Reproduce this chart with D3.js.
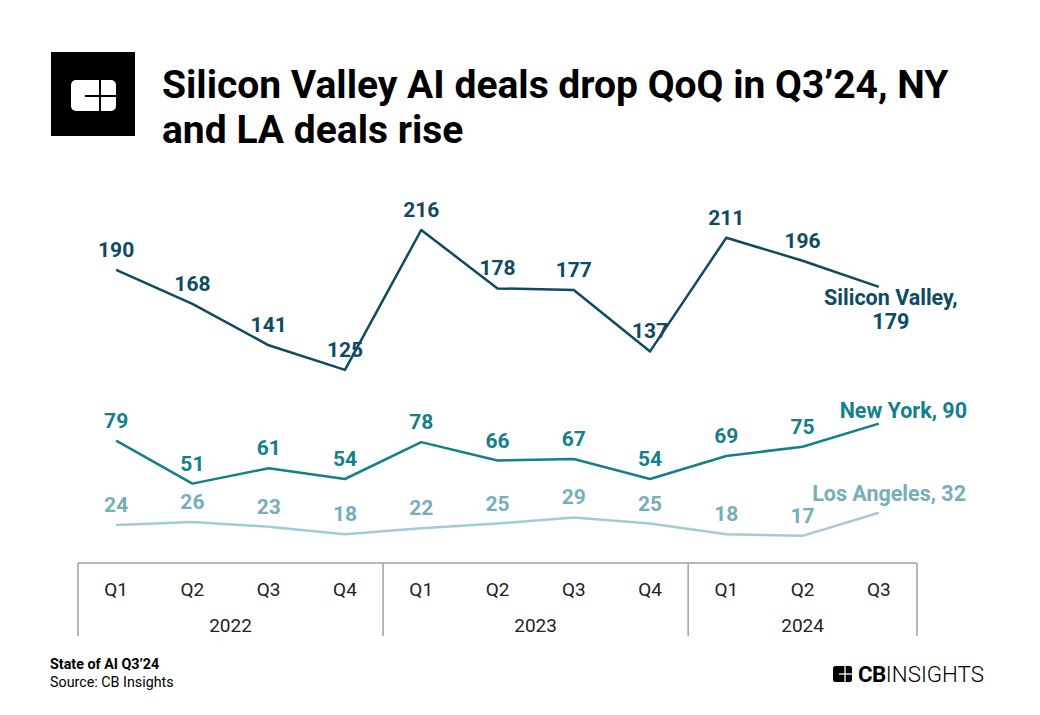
<!DOCTYPE html>
<html><head><meta charset="utf-8">
<script src="https://cdn.jsdelivr.net/npm/d3@7"></script>
<style>body{margin:0;background:#fff}svg{display:block;font-family:Roboto,"Noto Sans",sans-serif}</style>
</head><body><svg id="c" width="1040" height="715"></svg>
<script>
const quarters = ["Q1","Q2","Q3","Q4","Q1","Q2","Q3","Q4","Q1","Q2","Q3"];
const years = ["2022","2023","2024"];
const yearQuarterCount = [4,4,3];
const siliconValley = [190,168,141,125,216,178,177,137,211,196,179];
const newYork = [79,51,61,54,78,66,67,54,69,75,90];
const losAngeles = [24,26,23,18,22,25,29,25,18,17,32];
const seriesNames = ["Silicon Valley","New York","Los Angeles"];

const svg = d3.select("#c");
const idx = d3.range(quarters.length);
const x = d3.scaleBand().domain(idx).range([78, 917]).padding(0);
const cx = i => x(i) + x.bandwidth()/2;
const y = d3.scaleLinear().domain([0, 216]).range([562, 230]);

// logo
svg.append("rect").attr("x",51).attr("y",52).attr("width",84).attr("height",84).attr("fill","#000");
svg.append("rect").attr("x",71).attr("y",80).attr("width",45).attr("height",31).attr("rx",5).attr("fill","#fff");
svg.append("line").attr("x1",85).attr("x2",116).attr("y1",96).attr("y2",96).attr("stroke","#000").attr("stroke-width",2);
svg.append("line").attr("x1",100).attr("x2",100).attr("y1",80).attr("y2",111).attr("stroke","#000").attr("stroke-width",2);

// title
const title = svg.append("text").attr("font-size",39).attr("font-weight",700).attr("fill","#000");
title.append("tspan").attr("x",162).attr("y",98).text("Silicon Valley AI deals drop QoQ in Q3’24, NY");
title.append("tspan").attr("x",162).attr("y",143).text("and LA deals rise");

const series = [
  {name: seriesNames[0], values: siliconValley, line:"#0e4a64", label:"#0e4a64"},
  {name: seriesNames[1], values: newYork, line:"#137f8d", label:"#137f8d"},
  {name: seriesNames[2], values: losAngeles, line:"#a0cdd5", label:"#78adba"}
];
const line = d3.line().x((d,i)=>cx(i)).y(d=>y(d));
series.forEach(s=>{
  svg.append("path").attr("d", line(s.values)).attr("fill","none").attr("stroke",s.line).attr("stroke-width",2.5).attr("stroke-linejoin","round");
  svg.append("g").selectAll("text").data(s.values.slice(0,-1)).join("text")
    .attr("x",(d,i)=>cx(i)).attr("y",d=>y(d)-13)
    .attr("text-anchor","middle").attr("font-size",21).attr("font-weight",700).attr("fill",s.label).text(d=>d);
});
// end labels
const last = quarters.length-1;
const sv = series[0];
const svl = svg.append("text").attr("text-anchor","middle").attr("font-size",21.5).attr("font-weight",700).attr("fill",sv.label);
svl.append("tspan").attr("x",cx(last)+12).attr("y",y(sv.values[last])+18).text(sv.name+",");
svl.append("tspan").attr("x",cx(last)+12).attr("y",y(sv.values[last])+42).text(sv.values[last]);
svg.append("text").attr("x",967).attr("y",y(series[1].values[last])-6).attr("text-anchor","end")
  .attr("font-size",21.5).attr("font-weight",700).attr("fill",series[1].label).text(series[1].name+", "+series[1].values[last]);
svg.append("text").attr("x",966).attr("y",y(series[2].values[last])-12).attr("text-anchor","end")
  .attr("font-size",21.5).attr("font-weight",700).attr("fill",series[2].label).text(series[2].name+", "+series[2].values[last]);

// axis box
const ax = svg.append("g").attr("stroke","#a0a0a0").attr("stroke-width",1.5);
ax.append("line").attr("x1",78).attr("x2",917).attr("y1",563).attr("y2",563);
let start = 0;
const bounds = [0];
yearQuarterCount.forEach(c=>{start+=c; bounds.push(start);});
bounds.forEach(b=>{
  const xx = b===quarters.length ? x(b-1)+x.bandwidth() : x(b);
  ax.append("line").attr("x1",xx).attr("x2",xx).attr("y1",563).attr("y2",636);
});
svg.append("g").selectAll("text").data(quarters).join("text")
  .attr("x",(d,i)=>cx(i)).attr("y",596).attr("text-anchor","middle").attr("font-size",19).attr("fill","#222").text(d=>d);
years.forEach((yr,k)=>{
  const a = x(bounds[k]), b = x(bounds[k+1]-1)+x.bandwidth();
  svg.append("text").attr("x",(a+b)/2).attr("y",632).attr("text-anchor","middle").attr("font-size",19).attr("fill","#222").text(yr);
});

// footer
svg.append("text").attr("x",50).attr("y",669).attr("font-size",14.3).attr("font-weight",700).attr("fill","#000").text("State of AI Q3’24");
svg.append("text").attr("x",50).attr("y",687).attr("font-size",14.3).attr("fill","#000").text("Source: CB Insights");

// CB Insights brand
svg.append("rect").attr("x",833).attr("y",666).attr("width",19).attr("height",16).attr("rx",2.5).attr("fill","#000");
svg.append("line").attr("x1",839).attr("x2",852).attr("y1",674).attr("y2",674).attr("stroke","#fff").attr("stroke-width",1.3);
svg.append("line").attr("x1",845).attr("x2",845).attr("y1",666).attr("y2",682).attr("stroke","#fff").attr("stroke-width",1.3);
const br = svg.append("text").attr("x",858).attr("y",682).attr("font-size",21.5).attr("fill","#000").attr("textLength",126).attr("lengthAdjust","spacingAndGlyphs");
br.append("tspan").attr("font-weight",700).attr("letter-spacing",-0.5).text("CB");
br.append("tspan").attr("font-weight",300).text("INSIGHTS");
</script></body></html>
